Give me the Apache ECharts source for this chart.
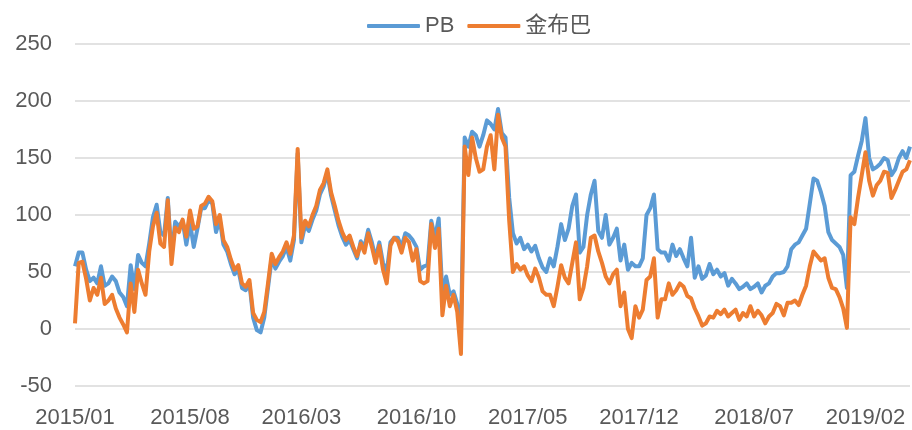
<!DOCTYPE html>
<html>
<head>
<meta charset="utf-8">
<script src="https://cdn.jsdelivr.net/npm/echarts@6/dist/echarts.min.js"></script>
<style>
  html, body { margin: 0; padding: 0; background: #fff; }
  #chart { width: 912px; height: 430px; }
</style>
</head>
<body>
<div id="chart"></div>
<script>
// weekly readings, first week of 2015/01 onward
const startDate = [2015, 0, 2];
const weekCount = 226;
const tickLabels = ['2015/01', '2015/08', '2016/03', '2016/10', '2017/05', '2017/12', '2018/07', '2019/02'];

const pbValues = [
  55, 67, 67, 52, 42, 45, 40, 55, 38, 40,
  46, 42, 32, 28, 20, 56, 35, 65, 58, 55,
  75, 98, 109, 85, 82, 115, 64, 94, 90, 95,
  74, 93, 72, 88, 106, 106, 113, 110, 85, 96,
  74, 68, 57, 48, 52, 36, 34, 40, 10, -1,
  -3, 10, 36, 62, 53, 59, 64, 72, 60, 78,
  154, 76, 91, 86, 96, 104, 118, 125, 137, 117,
  104, 91, 81, 74, 78, 70, 62, 77, 72, 87,
  76, 62, 76, 58, 50, 76, 80, 80, 72, 84,
  82, 78, 72, 52, 55, 56, 95, 80, 97, 30,
  46, 30, 33, 22, -2, 168, 160, 173, 170, 160,
  170, 183, 180, 175, 193, 172, 168, 115, 84, 75,
  80, 70, 74, 68, 73, 62, 54, 50, 62, 55,
  72, 92, 78, 88, 108, 118, 67, 72, 100, 118,
  130, 86, 80, 100, 74, 80, 88, 60, 74, 52,
  58, 55, 55, 62, 100, 106, 118, 70, 67, 67,
  60, 74, 64, 70, 62, 55, 80, 45, 55, 44,
  47, 57, 48, 52, 46, 49, 38, 44, 40, 35,
  37, 40, 35, 37, 40, 32, 38, 40, 46, 49,
  49, 50, 55, 70, 74, 76, 82, 88, 110, 132,
  130, 120, 108, 85, 78, 75, 72, 65, 36, 135,
  138, 152, 165, 185, 150, 140, 142, 145, 150, 148,
  135, 140, 150, 156, 150, 160
];

const jbbValues = [
  5, 58, 59, 44, 25, 36, 30, 45, 22, 25,
  30, 18, 10, 4, -3, 40, 15, 52, 40, 30,
  68, 90, 102, 75, 72, 113, 57, 89, 85, 96,
  81, 104, 88, 90, 108, 110, 116, 112, 92, 100,
  78, 72, 61, 52, 56, 40, 37, 43, 14, 8,
  6, 15, 40, 66, 57, 63, 68, 76, 66, 82,
  158, 80, 95, 90, 100, 108, 122, 128, 140, 120,
  108, 95, 85, 78, 82, 72, 64, 75, 67, 84,
  72, 58, 73, 52, 40, 73, 80, 77, 67, 80,
  76, 60, 70, 42, 40, 42, 92, 71, 88, 12,
  38, 20, 30, 15, -22, 160, 135, 168, 150, 138,
  140, 160, 170, 140, 188, 168, 160, 95, 50, 57,
  52, 55, 47, 42, 53, 45, 33, 30, 30, 20,
  37, 56, 45, 40, 58, 76, 26, 36, 55, 80,
  82, 68, 58, 46, 40, 48, 52, 20, 32, 0,
  -8, 20, 10, 17, 43, 46, 62, 10, 26, 26,
  40, 30, 34, 40, 37, 29, 27, 18, 11, 3,
  5, 11, 10, 16, 13, 17, 11, 14, 17, 8,
  14, 11, 20, 11, 16, 12, 5, 11, 14, 22,
  20, 12, 23, 23, 25, 21, 30, 38, 55, 68,
  64, 60, 62, 45, 36, 35, 28, 18, 1, 98,
  92, 115, 135, 155, 130, 117, 126, 130, 138, 137,
  115, 122, 130, 138, 140, 148
];

const pad = n => (n < 10 ? '0' + n : '' + n);
const dates = [];
for (let i = 0; i < weekCount; i++) {
  const d = new Date(Date.UTC(startDate[0], startDate[1], startDate[2] + 7 * i));
  dates.push(d.getUTCFullYear() + '/' + pad(d.getUTCMonth() + 1) + '/' + pad(d.getUTCDate()));
}

// first week of each labelled month
const labelIndex = new Set(tickLabels.map(m => dates.findIndex(d => d.startsWith(m))));

const fontFamily = '"Liberation Sans", "Noto Sans CJK SC", sans-serif';
const chart = echarts.init(document.getElementById('chart'), null, { renderer: 'canvas' });

chart.setOption({
  animation: false,
  backgroundColor: '#ffffff',
  color: ['#5B9BD5', '#ED7D31'],
  legend: {
    data: ['PB', '金布巴'],
    left: 362,
    top: 9,
    icon: 'roundRect',
    itemWidth: 53,
    itemHeight: 4,
    itemGap: 13,
    textStyle: { fontFamily, fontSize: 22, color: '#595959', lineHeight: 24 }
  },
  grid: { left: 75, right: 2, top: 44, bottom: 44 },
  xAxis: {
    type: 'category',
    data: dates,
    boundaryGap: false,
    axisLine: { show: false, onZero: false },
    axisTick: { show: false },
    splitLine: { show: false },
    axisLabel: {
      interval: index => labelIndex.has(index),
      formatter: value => value.slice(0, 7),
      fontFamily,
      fontSize: 22,
      color: '#595959',
      margin: 21,
      hideOverlap: false
    }
  },
  yAxis: {
    type: 'value',
    min: -50,
    max: 250,
    interval: 50,
    axisLine: { show: false },
    axisTick: { show: false },
    axisLabel: { fontFamily, fontSize: 22, color: '#595959', margin: 23 },
    splitLine: { lineStyle: { color: '#d9d9d9', width: 1.5 } }
  },
  series: [
    {
      name: 'PB',
      type: 'line',
      data: pbValues,
      showSymbol: false,
      lineStyle: { width: 4, color: '#5B9BD5', join: 'round' }
    },
    {
      name: '金布巴',
      type: 'line',
      data: jbbValues,
      showSymbol: false,
      lineStyle: { width: 4, color: '#ED7D31', join: 'round' }
    }
  ]
});
</script>
</body>
</html>
